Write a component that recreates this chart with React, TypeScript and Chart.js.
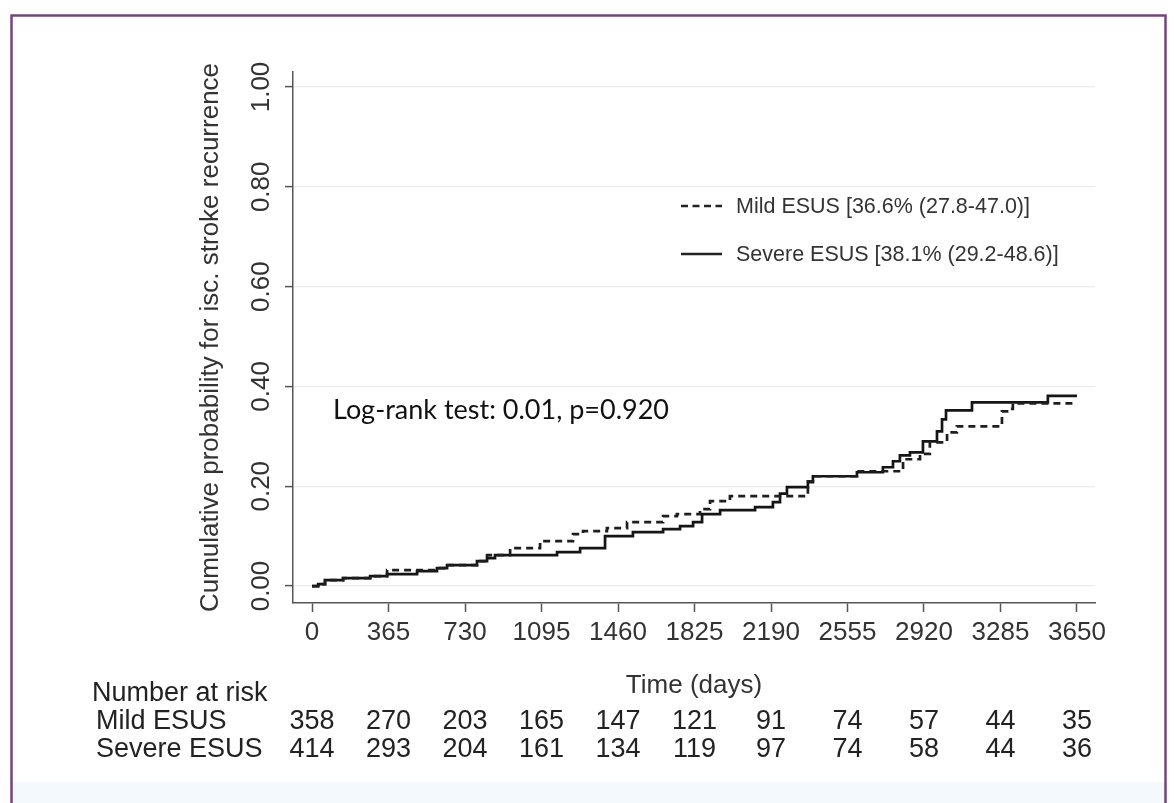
import React, { useEffect, useRef } from 'react';
import { Chart, registerables } from 'chart.js';

Chart.register(...registerables);

const FONT = '"Liberation Sans", Arial, Helvetica, sans-serif';
const NOTE_FONT = 'Lato, "Open Sans", sans-serif';

// Kaplan-Meier style cumulative incidence (days, probability)
const mildTimes = [0, 29, 62, 148, 277, 358, 596, 644, 787, 835, 945, 1088, 1245, 1293, 1407, 1503, 1675, 1741, 1851, 1899, 1994, 2366, 2390, 2600, 2820, 2901, 2948, 3030, 3077, 3292, 3330, 3344, 3650];
const mildValues = [0, 0.004, 0.012, 0.016, 0.02, 0.032, 0.036, 0.042, 0.05, 0.062, 0.076, 0.09, 0.104, 0.11, 0.116, 0.128, 0.14, 0.144, 0.154, 0.17, 0.18, 0.21, 0.22, 0.23, 0.254, 0.265, 0.288, 0.308, 0.32, 0.35, 0.355, 0.366, 0.366];

const severeTimes = [0, 29, 62, 148, 277, 358, 501, 596, 644, 787, 835, 873, 1169, 1279, 1398, 1531, 1675, 1756, 1818, 1861, 1947, 2114, 2199, 2233, 2266, 2366, 2390, 2600, 2724, 2772, 2805, 2853, 2915, 2982, 3006, 3025, 3149, 3511, 3650];
const severeValues = [0, 0.004, 0.012, 0.016, 0.02, 0.024, 0.03, 0.036, 0.042, 0.05, 0.056, 0.062, 0.068, 0.076, 0.1, 0.108, 0.114, 0.12, 0.128, 0.144, 0.152, 0.158, 0.168, 0.185, 0.198, 0.208, 0.22, 0.228, 0.238, 0.25, 0.262, 0.268, 0.29, 0.31, 0.334, 0.352, 0.368, 0.381, 0.381];

const xTicks = [0, 365, 730, 1095, 1460, 1825, 2190, 2555, 2920, 3285, 3650];
const yTicks = [0, 0.2, 0.4, 0.6, 0.8, 1.0];

const seriesNames = ['Mild ESUS', 'Severe ESUS'];
const legendLabels = ['Mild ESUS [36.6% (27.8-47.0)]', 'Severe ESUS [38.1% (29.2-48.6)]'];
const mildAtRisk = [358, 270, 203, 165, 147, 121, 91, 74, 57, 44, 35];
const severeAtRisk = [414, 293, 204, 161, 134, 119, 97, 74, 58, 44, 36];
const riskTitle = 'Number at risk';
const annotationText = 'Log-rank test: 0.01, p=0.920';
const yTitle = 'Cumulative probability for isc. stroke recurrence';
const xTitle = 'Time (days)';

const W = 1176;
const H = 803;

const framePlugin = {
  id: 'frame',
  beforeDraw(chart: any) {
    const { ctx } = chart;
    ctx.save();
    ctx.fillStyle = '#ffffff';
    ctx.fillRect(0, 0, W, H);
    ctx.fillStyle = '#f3f9fd';
    ctx.fillRect(12, 782, 1153, H - 782);
    ctx.strokeStyle = '#74447f';
    ctx.lineWidth = 2.5;
    ctx.strokeRect(11.5, 15.5, 1154, 900);
    ctx.restore();
  },
};

const overlayPlugin = {
  id: 'overlay',
  afterDraw(chart: any) {
    const { ctx } = chart;
    const xs = chart.scales.x;
    ctx.save();
    // legend
    const rows = [206, 254];
    legendLabels.forEach((label, i) => {
      const yy = rows[i];
      ctx.beginPath();
      ctx.setLineDash(i === 0 ? [7, 4.5] : []);
      ctx.strokeStyle = '#222';
      ctx.lineWidth = 2.3;
      ctx.moveTo(681, yy);
      ctx.lineTo(722, yy);
      ctx.stroke();
      ctx.setLineDash([]);
      ctx.font = `21.5px ${FONT}`;
      ctx.fillStyle = '#333';
      ctx.textAlign = 'left';
      ctx.textBaseline = 'middle';
      ctx.fillText(label, 736, yy + 1);
    });
    // annotation
    ctx.font = `27px ${NOTE_FONT}`;
    ctx.fillStyle = '#111';
    ctx.textAlign = 'left';
    ctx.textBaseline = 'middle';
    ctx.fillText(annotationText, 333, 410);
    // number at risk table
    ctx.font = `27px ${FONT}`;
    ctx.fillStyle = '#222';
    ctx.fillText(riskTitle, 92, 694);
    const counts = [mildAtRisk, severeAtRisk];
    const tableRows = [722, 750];
    seriesNames.forEach((name, r) => {
      const yy = tableRows[r];
      ctx.textAlign = 'left';
      ctx.fillText(name, 96, yy);
      ctx.textAlign = 'center';
      counts[r].forEach((n, i) => {
        ctx.fillText(String(n), xs.getPixelForValue(xTicks[i]), yy);
      });
    });
    ctx.restore();
  },
};

export default function App() {
  const canvasRef = useRef<HTMLCanvasElement | null>(null);

  useEffect(() => {
    const canvas = canvasRef.current;
    if (!canvas) return;
    const chart = new Chart(canvas, {
      type: 'line',
      data: {
        datasets: [
          {
            label: seriesNames[0],
            data: mildTimes.map((t, i) => ({ x: t, y: mildValues[i] })),
            borderColor: '#1e1e1e',
            borderWidth: 2.7,
            borderDash: [7, 5],
            stepped: 'before',
            pointRadius: 0,
            fill: false,
          },
          {
            label: seriesNames[1],
            data: severeTimes.map((t, i) => ({ x: t, y: severeValues[i] })),
            borderColor: '#151515',
            borderWidth: 2.7,
            stepped: 'before',
            pointRadius: 0,
            fill: false,
          },
        ],
      },
      options: {
        animation: false,
        responsive: false,
        devicePixelRatio: 1,
        events: [],
        layout: { padding: { left: 0, right: 81, top: 72, bottom: 0 } },
        plugins: {
          legend: { display: false },
          tooltip: { enabled: false },
        },
        scales: {
          x: {
            type: 'linear',
            min: -91,
            max: 3736,
            afterBuildTicks: (s: any) => {
              s.ticks = xTicks.map((v) => ({ value: v }));
            },
            afterFit: (s: any) => {
              s.height = 200;
            },
            ticks: {
              autoSkip: false,
              minRotation: 0,
              maxRotation: 0,
              padding: 5,
              color: '#333',
              font: { family: FONT, size: 26 },
              callback: (v: any) => String(v),
            },
            grid: {
              drawOnChartArea: false,
              drawTicks: true,
              tickLength: 9,
              tickColor: '#555',
              tickWidth: 1.5,
            },
            border: { display: true, color: '#555', width: 1.5 },
            title: {
              display: true,
              text: xTitle,
              color: '#333',
              font: { family: FONT, size: 26 },
              padding: { top: 0, bottom: 102 },
            },
          },
          y: {
            type: 'linear',
            min: -0.034,
            max: 1.03,
            afterBuildTicks: (s: any) => {
              s.ticks = yTicks.map((v) => ({ value: v }));
            },
            afterFit: (s: any) => {
              s.width = 293;
            },
            ticks: {
              minRotation: 90,
              maxRotation: 90,
              crossAlign: 'center',
              padding: -2,
              color: '#333',
              font: { family: FONT, size: 26 },
              callback: (v: any) => Number(v).toFixed(2),
            },
            grid: {
              color: '#ebebeb',
              lineWidth: 1.2,
              drawTicks: true,
              tickLength: 8,
              tickColor: '#555',
              tickWidth: 1.5,
            },
            border: { display: true, color: '#555', width: 1.5 },
            title: {
              display: true,
              text: yTitle,
              color: '#333',
              font: { family: FONT, size: 26 },
              padding: { top: 195, bottom: 0 },
            },
          },
        },
      },
      plugins: [framePlugin, overlayPlugin],
    } as any);
    return () => chart.destroy();
  }, []);

  return (
    <div style={{ position: 'fixed', left: 0, top: 0, width: W, height: H, background: '#fff' }}>
      <canvas ref={canvasRef} width={W} height={H} style={{ display: 'block', width: W, height: H }} />
    </div>
  );
}
